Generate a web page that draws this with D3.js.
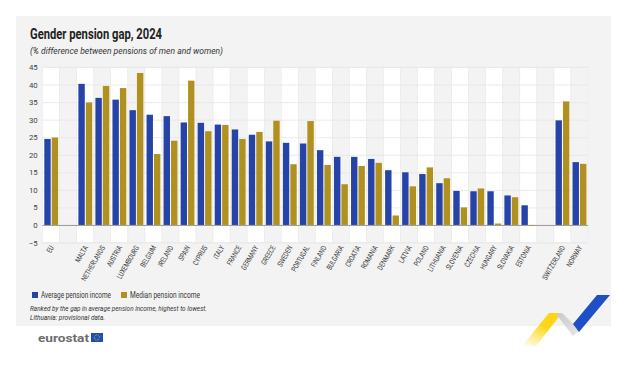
<!DOCTYPE html>
<html>
<head>
<meta charset="utf-8">
<script src="https://cdn.jsdelivr.net/npm/d3@7"></script>
<style>
  html, body { margin: 0; padding: 0; background: #fff; }
  svg { display: block; }
  text { font-family: Roboto, "Liberation Sans", sans-serif; }
</style>
</head>
<body>
<div id="chart"></div>
<script>
(function () {
  // data
  let countries = ['EU', '', 'MALTA', 'NETHERLANDS', 'AUSTRIA', 'LUXEMBOURG', 'BELGIUM', 'IRELAND',
    'SPAIN', 'CYPRUS', 'ITALY', 'FRANCE', 'GERMANY', 'GREECE', 'SWEDEN', 'PORTUGAL', 'FINLAND',
    'BULGARIA', 'CROATIA', 'ROMANIA', 'DENMARK', 'LATVIA', 'POLAND', 'LITHUANIA', 'SLOVENIA',
    'CZECHIA', 'HUNGARY', 'SLOVAKIA', 'ESTONIA', ' ', 'SWITZERLAND', 'NORWAY'];
  let averageGap = [24.5, null, 40.2, 36.2, 35.7, 32.7, 31.4, 31.0, 29.2, 29.1, 28.6, 27.2, 25.7,
    23.8, 23.4, 23.2, 21.3, 19.4, 19.4, 18.8, 15.6, 15.0, 14.5, 11.9, 9.7, 9.6, 9.6, 8.4, 5.6,
    null, 29.8, 17.9];
  let medianGap = [24.9, null, 34.9, 39.6, 39.0, 43.3, 20.2, 24.0, 41.1, 26.7, 28.5, 24.5, 26.5,
    29.7, 17.3, 29.6, 17.1, 11.6, 16.8, 17.7, 2.7, 11.0, 16.4, 13.3, 5.0, 10.4, 0.4, 7.9, -0.2,
    null, 35.2, 17.4];
  let seriesNames = ['Average pension income', 'Median pension income'];
  let yTicks = [-5, 0, 5, 10, 15, 20, 25, 30, 35, 40, 45];

  let colors = ['#2644a7', '#b09120'];
  let W = 629, H = 371;
  let plot = { left: 42.7, right: 588, top: 67, bottom: 242.5 };

  let svg = d3.select('#chart').append('svg')
    .attr('width', W)
    .attr('height', H);

  // card background
  svg.append('rect')
    .attr('x', 16).attr('y', 16)
    .attr('width', 595).attr('height', 310)
    .attr('fill', '#f3f3f3');

  // narrow-looking text: squeeze to the width measured on the picture
  function squeezed(sel, x, y, size, width) {
    return sel.append('text')
      .attr('x', x).attr('y', y)
      .attr('font-size', size)
      .attr('textLength', width)
      .attr('lengthAdjust', 'spacingAndGlyphs');
  }

  squeezed(svg, 30, 39.3, 14, 132)
    .attr('font-weight', 'bold')
    .attr('fill', '#222')
    .text('Gender pension gap, 2024');

  squeezed(svg, 30, 54, 8.6, 193)
    .attr('font-style', 'italic')
    .attr('fill', '#333')
    .text('(% difference between pensions of men and women)');

  let x = d3.scaleBand()
    .domain(countries)
    .range([plot.left, plot.right])
    .padding(0);

  let x1 = d3.scaleBand()
    .domain(seriesNames)
    .range([1.6, x.bandwidth() - 1.6])
    .paddingInner(0.14);

  let y = d3.scaleLinear()
    .domain([-5, 45])
    .range([plot.bottom, plot.top]);

  // alternating column bands
  svg.append('g')
    .selectAll('rect')
    .data(countries)
    .join('rect')
    .attr('x', (d) => x(d))
    .attr('y', y(45))
    .attr('width', x.bandwidth())
    .attr('height', y(-5) - y(45))
    .attr('fill', (d, i) => (i % 2 === 0 ? '#ffffff' : '#f3f3f3'))
    .attr('stroke', '#e8e8e8')
    .attr('stroke-width', 0.5);

  // horizontal grid + y labels
  let yAxis = svg.append('g')
    .attr('transform', `translate(${plot.left}, 0)`)
    .call(d3.axisLeft(y).tickValues(yTicks).tickSize(-(plot.right - plot.left)).tickPadding(5));
  yAxis.select('.domain').remove();
  yAxis.selectAll('.tick line')
    .attr('stroke', (d) => (d === 0 ? '#9a9a9a' : '#e6e6e6'))
    .attr('stroke-width', (d) => (d === 0 ? 1 : 0.8));
  yAxis.selectAll('.tick text')
    .attr('font-family', 'Roboto, sans-serif')
    .attr('font-size', 7.8)
    .attr('fill', '#444');

  // bars
  let rows = countries.map((c, i) => ({ c: c, vals: [averageGap[i], medianGap[i]] }))
    .filter((d) => d.vals[0] !== null);

  let groups = svg.append('g')
    .selectAll('g')
    .data(rows)
    .join('g')
    .attr('transform', (d) => `translate(${x(d.c)}, 0)`);

  groups.selectAll('rect')
    .data((d) => d.vals.map((v, k) => ({ name: seriesNames[k], v: v, k: k })))
    .join('rect')
    .attr('x', (d) => x1(d.name))
    .attr('y', (d) => y(Math.max(0, d.v)))
    .attr('width', x1.bandwidth())
    .attr('height', (d) => Math.max(0.6, Math.abs(y(d.v) - y(0))))
    .attr('fill', (d) => colors[d.k]);

  // x labels
  svg.append('g')
    .selectAll('text')
    .data(countries.filter((c) => c.trim() !== ''))
    .join('text')
    .attr('font-size', 7.6)
    .attr('fill', '#333')
    .attr('text-anchor', 'end')
    .attr('transform', (d) => `translate(${x(d) + x.bandwidth() / 2 + 3}, ${plot.bottom + 5}) rotate(-60) scale(0.75, 1)`)
    .text((d) => d);

  // legend
  let legend = svg.append('g')
    .attr('transform', 'translate(32, 292)');
  let items = legend.selectAll('g')
    .data(seriesNames)
    .join('g')
    .attr('transform', (d, i) => `translate(${i * 89}, 0)`);
  items.append('rect')
    .attr('width', 6).attr('height', 6)
    .attr('fill', (d, i) => colors[i]);
  items.append('text')
    .attr('x', 9).attr('y', 6)
    .attr('font-size', 8.2)
    .attr('textLength', 70)
    .attr('lengthAdjust', 'spacingAndGlyphs')
    .attr('fill', '#333')
    .text((d) => d);

  let notes = ['Ranked by the gap in average pension income, highest to lowest.',
    'Lithuania: provisional data.'];
  let noteWidths = [177, 75];
  svg.append('g')
    .selectAll('text')
    .data(notes)
    .join('text')
    .attr('x', 30)
    .attr('y', (d, i) => 310.5 + i * 9)
    .attr('font-size', 7.8)
    .attr('font-style', 'italic')
    .attr('textLength', (d, i) => noteWidths[i])
    .attr('lengthAdjust', 'spacingAndGlyphs')
    .attr('fill', '#333')
    .text((d) => d);

  // eurostat logo
  squeezed(svg, 38, 342, 11.5, 51)
    .attr('font-family', 'DejaVu Sans, sans-serif')
    .attr('font-weight', 'bold')
    .attr('fill', '#6d6d6d')
    .text('eurostat');
  svg.append('rect')
    .attr('x', 91).attr('y', 333)
    .attr('width', 12).attr('height', 9)
    .attr('fill', '#1d4fb5');
  svg.append('circle')
    .attr('cx', 97).attr('cy', 337.5).attr('r', 2.6)
    .attr('fill', 'none')
    .attr('stroke', '#f5d000')
    .attr('stroke-width', 0.8)
    .attr('stroke-dasharray', '0.8 0.8');

  // decorative ribbon
  let defs = svg.append('defs');
  let grad = defs.append('linearGradient')
    .attr('id', 'yel')
    .attr('x1', '0').attr('y1', '1').attr('x2', '0.6').attr('y2', '0');
  grad.append('stop').attr('offset', '0').attr('stop-color', '#ffd617').attr('stop-opacity', 0);
  grad.append('stop').attr('offset', '0.7').attr('stop-color', '#ffd617').attr('stop-opacity', 1);
  let gGrad = defs.append('linearGradient')
    .attr('id', 'gry')
    .attr('x1', '0').attr('y1', '0').attr('x2', '1').attr('y2', '1');
  gGrad.append('stop').attr('offset', '0').attr('stop-color', '#c8c8c8');
  gGrad.append('stop').attr('offset', '1').attr('stop-color', '#e8e8e8');

  let line = d3.line();
  svg.append('path')
    .attr('d', line([[522, 346], [549, 313], [562, 313], [536, 346]]) + 'Z')
    .attr('fill', 'url(#yel)');
  svg.append('path')
    .attr('d', line([[556, 314], [562, 313], [580, 330], [573, 336]]) + 'Z')
    .attr('fill', 'url(#gry)');
  svg.append('path')
    .attr('d', line([[573, 324], [597, 295], [610, 295], [579, 332]]) + 'Z')
    .attr('fill', '#1e4fc4');
})();
</script>
</body>
</html>
